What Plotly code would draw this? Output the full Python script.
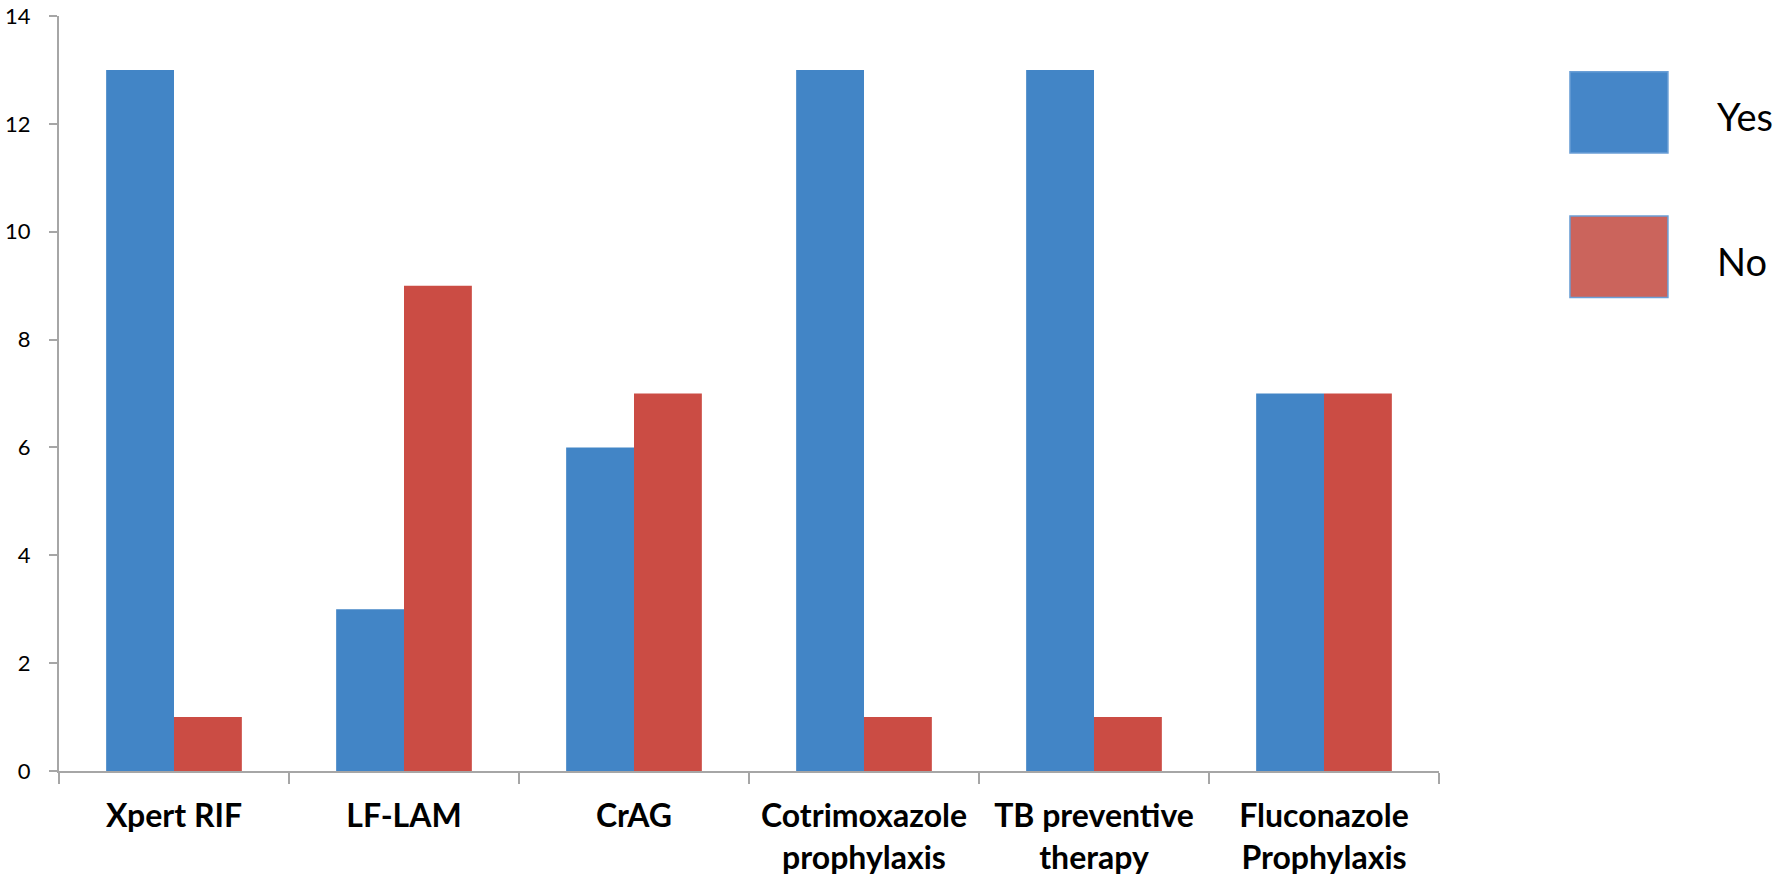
import plotly.graph_objects as go

categories = ["Xpert RIF", "LF-LAM", "CrAG", "Cotrimoxazole<br>prophylaxis",
              "TB preventive<br>therapy", "Fluconazole<br>Prophylaxis"]
series_names = ["Yes", "No"]
yes_values = [13, 3, 6, 13, 13, 7]
no_values = [1, 9, 7, 1, 1, 7]
y_ticks = [0, 2, 4, 6, 8, 10, 12, 14]

colors = ["#4285c6", "#cb4c44"]
legend_fill = ["#4586c8", "#cb645c"]
FONT = "Lato"

fig = go.Figure()
for name, vals, col in zip(series_names, [yes_values, no_values], colors):
    fig.add_trace(go.Bar(x=categories, y=vals, name=name,
                         marker=dict(color=col, line=dict(width=0))))

# custom large legend
legend_y = [(0.926, 0.8185), (0.735, 0.627)]
legend_text_y = [0.867, 0.676]
for name, fill, (y1, y0), ty in zip(series_names, legend_fill, legend_y, legend_text_y):
    fig.add_shape(type="rect", xref="paper", yref="paper",
                  x0=1.0949, x1=1.1659, y0=y0, y1=y1,
                  fillcolor=fill, line=dict(color="#6b9fd6", width=1.5))
    fig.add_annotation(xref="paper", yref="paper", x=1.2, y=ty,
                       text=name, showarrow=False, xanchor="left", yanchor="middle",
                       font=dict(family=FONT, size=38, color="#000"))

fig.update_layout(
    width=1789, height=882,
    margin=dict(l=59, r=350, t=16, b=111),
    paper_bgcolor="white", plot_bgcolor="white",
    barmode="group", bargap=0.41, bargroupgap=0,
    showlegend=False,
    font=dict(family=FONT, color="#000"),
)
fig.update_yaxes(range=[0, 14], tickvals=y_ticks, showgrid=False, zeroline=False,
                 automargin=False,
                 showline=True, linecolor="#a6a6a6", linewidth=2,
                 ticks="outside", ticklen=8, tickcolor="#a6a6a6", tickwidth=2,
                 tickfont=dict(family=FONT, size=22, color="#000"),
                 ticklabelstandoff=14, ticklabeloverflow="allow")
fig.update_xaxes(showgrid=False, zeroline=False, showline=True, linecolor="#a6a6a6",
                 automargin=False,
                 linewidth=2, ticks="outside", ticklen=11, tickcolor="#a6a6a6",
                 tickwidth=2, tickson="boundaries", ticklabelstandoff=16,
                 tickfont=dict(family=FONT, size=32, color="#000", weight="bold"))

fig.write_html("out.html", config={"displayModeBar": False},
               post_script="document.body.style.margin='0';document.body.style.overflow='hidden';")
